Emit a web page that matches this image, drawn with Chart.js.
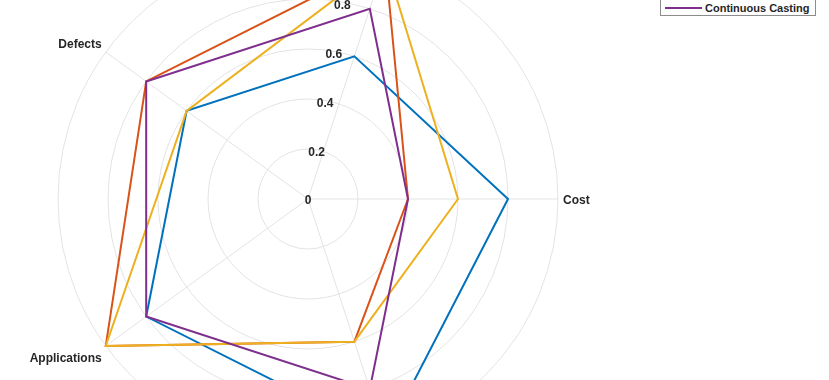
<!DOCTYPE html>
<html><head><meta charset="utf-8">
<script src="https://cdn.jsdelivr.net/npm/chart.js@4.4.1/dist/chart.umd.min.js"></script>
<style>
html,body{margin:0;padding:0;background:#fff;}
#wrap{position:relative;width:829px;height:380px;overflow:hidden;background:#fff;}
#c{position:absolute;left:0;top:-120px;}
#legend{position:absolute;left:660px;bottom:364px;width:154px;border:1px solid #8c8c8c;background:#fff;font:bold 11px "Liberation Sans",Arial,sans-serif;color:#262626;}
.row{display:flex;align-items:center;height:15px;white-space:nowrap;}
.sw{display:inline-block;width:37px;height:2px;margin-left:4px;margin-right:3px;}
</style></head><body>
<div id="wrap"><canvas id="c" width="829" height="620"></canvas><div id="legend"></div></div>
<script>
// Categories in drawing order (clockwise from the right-hand axis)
const categories = ['Cost', 'Surface Finish', 'Applications', 'Defects', 'Production Rate'];
const seriesNames = ['Sand Casting', 'Die Casting', 'Investment Casting', 'Continuous Casting'];
const sandCasting       = [0.8, 1.0, 0.8, 0.6, 0.6];
const dieCasting        = [0.4, 0.6, 1.0, 0.8, 1.0];
const investmentCasting = [0.6, 0.6, 1.0, 0.6, 1.0];
const continuousCasting = [0.4, 0.8, 0.8, 0.8, 0.8];
const tickValues = [0, 0.2, 0.4, 0.6, 0.8, 1];
const tickLabels = ['0', '0.2', '0.4', '0.6', '0.8', '1'];

const colors = ['#0072BD', '#D95319', '#EDB120', '#7E2F8E'];
const seriesValues = [sandCasting, dieCasting, investmentCasting, continuousCasting];

const datasets = seriesNames.map((name, i) => ({
  label: name,
  data: seriesValues[i],
  borderColor: colors[i],
  backgroundColor: 'rgba(0,0,0,0)',
  fill: false,
  borderWidth: 2,
  pointRadius: 0,
  pointHoverRadius: 0,
  borderJoinStyle: 'miter',
  tension: 0,
  order: seriesNames.length - i
}));

const textPlugin = {
  id: 'radarText',
  afterDatasetsDraw(chart) {
    const s = chart.scales.r;
    const ctx = chart.ctx;
    ctx.save();
    ctx.fillStyle = '#262626';
    ctx.font = 'bold 12px "Liberation Sans", Arial, sans-serif';
    categories.forEach((lab, i) => {
      const p = s.getPointPosition(i, s.drawingArea + 5);
      let deg = Math.round((p.angle + Math.PI / 2) * 180 / Math.PI) % 360;
      if (deg < 0) deg += 360;
      ctx.textAlign = (deg === 0 || deg === 180) ? 'center' : (deg < 180 ? 'left' : 'right');
      const vert = (deg === 90 || deg === 270) ? 'middle' : ((deg > 270 || deg < 90) ? 'bottom' : 'top');
      ctx.textBaseline = vert;
      const dy = vert === 'top' ? 4 : 2;
      ctx.fillText(lab, p.x, p.y + dy);
    });
    ctx.textAlign = 'center';
    ctx.textBaseline = 'middle';
    const a = 80 * Math.PI / 180;
    tickValues.forEach((v, i) => {
      const d = s.getDistanceFromCenterForValue(v) * 0.99;
      ctx.fillText(tickLabels[i], s.xCenter + d * Math.cos(a), s.yCenter - d * Math.sin(a) + 2);
    });
    ctx.restore();
  }
};

const chart = new Chart(document.getElementById('c'), {
  type: 'radar',
  data: { labels: categories, datasets },
  options: {
    responsive: false,
    animation: false,
    devicePixelRatio: 1,
    layout: { padding: { left: 58, top: 69, right: 271, bottom: 51 } },
    plugins: { legend: { display: false }, tooltip: { enabled: false } },
    scales: {
      r: {
        min: 0, max: 1, startAngle: 90,
        afterBuildTicks(scale) { scale.ticks = tickValues.map(v => ({ value: v })); },
        ticks: { display: false },
        pointLabels: { display: false },
        grid: { circular: true, color: '#e3e3e3', lineWidth: 1 },
        angleLines: { display: true, color: '#e3e3e3', lineWidth: 1 }
      }
    }
  },
  plugins: [textPlugin]
});

const legend = document.getElementById('legend');
chart.data.datasets.forEach(ds => {
  const row = document.createElement('div');
  row.className = 'row';
  const sw = document.createElement('span');
  sw.className = 'sw';
  sw.style.background = ds.borderColor;
  const t = document.createElement('span');
  t.textContent = ds.label;
  row.appendChild(sw);
  row.appendChild(t);
  legend.appendChild(row);
});
</script>
</body></html>
